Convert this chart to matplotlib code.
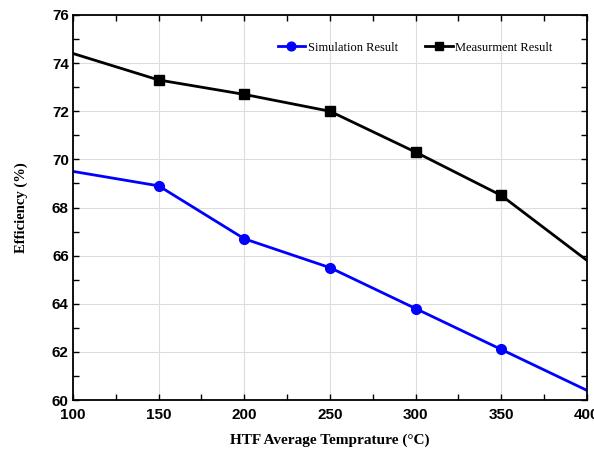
import numpy as np
import matplotlib
matplotlib.use("Agg")
import matplotlib.pyplot as plt
from matplotlib.ticker import MultipleLocator

temps = [100, 150, 200, 250, 300, 350, 400]
sim_eff = [69.5, 68.9, 66.7, 65.5, 63.8, 62.1, 60.4]
meas_eff = [74.4, 73.3, 72.7, 72.0, 70.3, 68.5, 65.8]

fig = plt.figure(figsize=(5.94, 4.49), dpi=100)
ax = fig.add_axes([0.1229, 0.1091, 0.8653, 0.8575])

ax.plot(temps, sim_eff, color="blue", lw=2, marker="o", ms=7,
        markevery=[1, 2, 3, 4, 5], label="Simulation Result")
ax.plot(temps, meas_eff, color="black", lw=2, marker="s", ms=6.5,
        markevery=[1, 2, 3, 4, 5], label="Measurment Result")

ax.set_xlim(100, 400)
ax.set_ylim(60, 76)
ax.xaxis.set_major_locator(MultipleLocator(50))
ax.xaxis.set_minor_locator(MultipleLocator(25))
ax.yaxis.set_major_locator(MultipleLocator(2))
ax.yaxis.set_minor_locator(MultipleLocator(1))
ax.grid(True, which="major", color="#dddddd", lw=0.8)
ax.set_axisbelow(True)

ax.tick_params(which="both", direction="in", top=True, right=True,
               labelsize=11, width=1, pad=3)
ax.tick_params(axis="x", which="both", pad=6)
ax.tick_params(which="major", length=4)
ax.tick_params(which="minor", length=4)
for lab in ax.get_xticklabels() + ax.get_yticklabels():
    lab.set_fontweight("bold")
    lab.set_fontfamily("Liberation Sans")
for sp in ax.spines.values():
    sp.set_linewidth(1.3)

ax.set_xlabel("HTF Average Temprature (\u00b0C)", fontsize=11,
              fontweight="bold", family="Liberation Serif", labelpad=8)
ax.set_ylabel("Efficiency (%)", fontsize=10.5, fontweight="bold",
              family="Liberation Serif", labelpad=17)

ax.legend(loc="upper right", bbox_to_anchor=(0.955, 0.96), ncol=2,
          frameon=False, prop={"family": "Liberation Serif", "size": 9},
          handlelength=2.2, handletextpad=0.2, columnspacing=2.2,
          markerscale=0.9)

fig.savefig("out.png", dpi=100)
